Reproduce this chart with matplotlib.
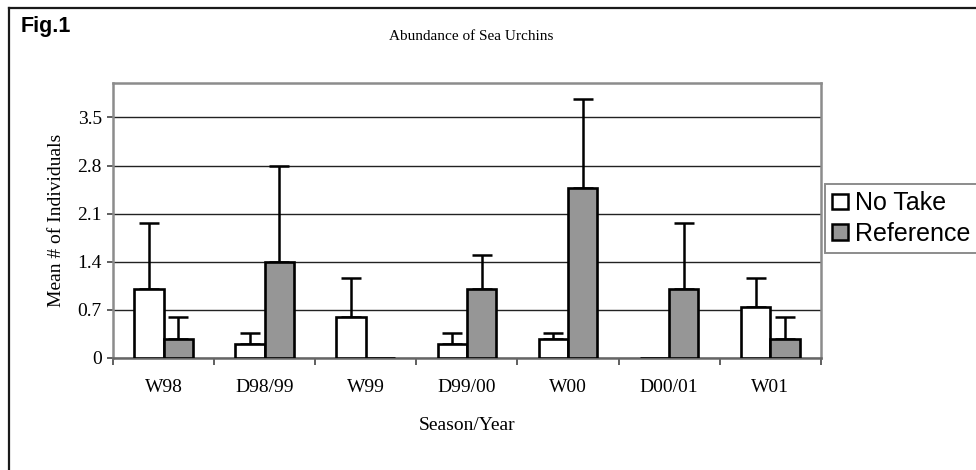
import numpy as np
import matplotlib
matplotlib.use('Agg')
import matplotlib.pyplot as plt
from matplotlib.patches import Patch
from matplotlib.lines import Line2D

#---Data---
seasons = ['W98', 'D98/99', 'W99', 'D99/00', 'W00', 'D00/01', 'W01']
no_take = [1.0, 0.2, 0.6, 0.2, 0.28, 0.0, 0.74]
no_take_err = [0.97, 0.17, 0.57, 0.17, 0.09, 0.0, 0.43]
reference = [0.28, 1.4, 0.0, 1.0, 2.48, 1.0, 0.28]
reference_err = [0.32, 1.4, 0.0, 0.5, 1.29, 0.97, 0.32]
yticks = [0, 0.7, 1.4, 2.1, 2.8, 3.5]

serif = 'Liberation Serif'
sans = 'Liberation Sans'

#---Plot---
fig = plt.figure(figsize=(9.76, 4.70), dpi=100)
ax = fig.add_axes([0.1158, 0.2383, 0.7252, 0.5851])

x = np.arange(len(seasons))
w = 0.29
ax.bar(x - w/2, no_take, w, color='white', edgecolor='black', linewidth=1.9, zorder=3)
ax.bar(x + w/2, reference, w, color='#969696', edgecolor='black', linewidth=1.9, zorder=3)

# upper error bars only, skip the empty ones
for xs, ys, es in [(x - w/2, no_take, no_take_err), (x + w/2, reference, reference_err)]:
    ys = np.array(ys)
    es = np.array(es)
    m = es > 0
    ax.errorbar(xs[m], ys[m], yerr=[np.zeros(m.sum()), es[m]], fmt='none',
                ecolor='black', elinewidth=1.8, capsize=7.5, capthick=1.8, zorder=2)

ax.set_xlim(-0.5, len(seasons) - 0.5)
ax.set_ylim(0, 4.0)
ax.set_yticks(yticks)
ax.set_yticklabels(['0' if t == 0 else '%.1f' % t for t in yticks], fontfamily=serif, fontsize=14)
ax.set_xticks(x)
ax.set_xticklabels(seasons, fontfamily=serif, fontsize=14)
ax.set_xticks(np.arange(-0.5, len(seasons)), minor=True)
ax.tick_params(axis='x', which='major', length=0, pad=15)
ax.tick_params(axis='x', which='minor', length=5, width=1.2, color='#444444', direction='out')
ax.tick_params(axis='y', length=4, width=1.2, color='#444444', direction='out', pad=4)
ax.grid(axis='y', color='#222222', linewidth=1.0, zorder=0)
ax.set_axisbelow(True)
for s in ax.spines.values():
    s.set_color('#8c8c8c')
    s.set_linewidth(1.8)
ax.spines['bottom'].set_color('#666666')

ax.set_ylabel('Mean # of Individuals', fontfamily=serif, fontsize=14, labelpad=9)
ax.set_xlabel('Season/Year', fontfamily=serif, fontsize=14, labelpad=15)

fig.text(0.483, 0.923, 'Abundance of Sea Urchins', fontfamily=serif, fontsize=11,
         ha='center', va='center')
fig.text(0.021, 0.967, 'Fig.1', fontfamily=sans, fontsize=15.5, fontweight='bold',
         ha='left', va='top')

handles = [Patch(facecolor='white', edgecolor='black', linewidth=1.8),
           Patch(facecolor='#969696', edgecolor='black', linewidth=1.8)]
leg = fig.legend(handles, ['No Take', 'Reference'], loc='upper left',
                 bbox_to_anchor=(0.845, 0.609), prop={'family': sans, 'size': 18},
                 handlelength=0.65, handleheight=0.6, handletextpad=0.25,
                 labelspacing=0.26, borderpad=0.3, borderaxespad=0,
                 fancybox=False, framealpha=1)
leg.get_frame().set_edgecolor('#8c8c8c')
leg.get_frame().set_linewidth(1.4)

# page frame (top and left edges only are visible)
fig.add_artist(Line2D([0.0092, 1.0], [0.983, 0.983], color='#1a1a1a', linewidth=1.6))
fig.add_artist(Line2D([0.0092, 0.0092], [0.0, 0.983], color='#1a1a1a', linewidth=1.6))

fig.savefig('out.png', dpi=100)
